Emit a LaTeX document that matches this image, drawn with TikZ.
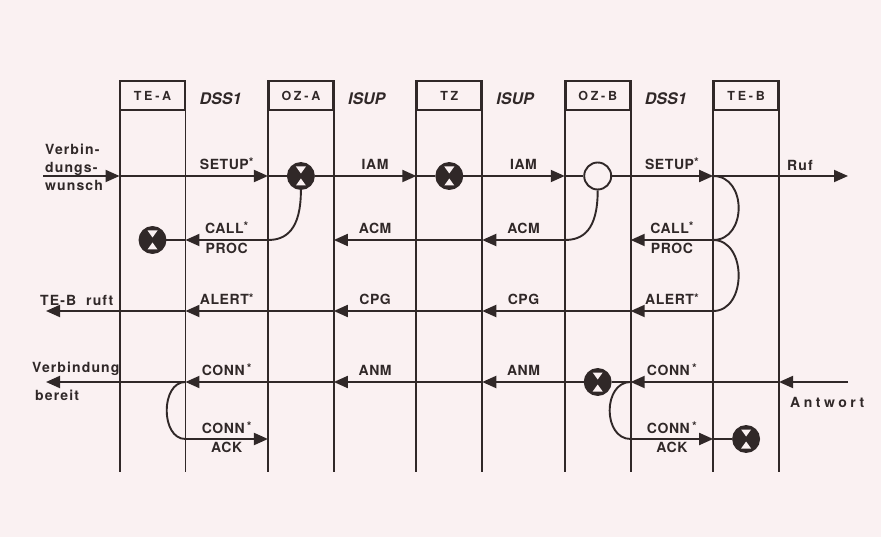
\documentclass[tikz,border=0pt]{standalone}
\usepackage{fontspec}
\setmainfont{TeX Gyre Heros}
\newfontfamily\msgfont[LetterSpace=4]{TeX Gyre Heros}
\newfontfamily\randfont[LetterSpace=8]{TeX Gyre Heros}
\newfontfamily\weitfont[LetterSpace=25]{TeX Gyre Heros}
\newfontfamily\kopffont[LetterSpace=22]{TeX Gyre Heros}
\usepackage{xcolor}
\usepackage{tikz}
\usetikzlibrary{arrows.meta, positioning}
\definecolor{linie}{RGB}{48,40,40}
\definecolor{papier}{RGB}{250,241,242}
\newcommand{\stern}{\raisebox{2.5pt}{\fontsize{12}{12}\selectfont *}}
\tikzstyle{instanz} = [rectangle, draw=linie, line width=1.9pt, minimum width=64pt, minimum height=29pt, inner sep=0pt, text=linie, font=\kopffont\bfseries\fontsize{12.5}{14}\selectfont]
\tikzstyle{protokoll} = [inner sep=0pt, text=linie, yshift=-3pt, font=\bfseries\itshape\fontsize{16}{18}\selectfont]
\tikzstyle{strich} = [line width=1.9pt, draw=linie]
\tikzstyle{msg} = [-{Triangle[length=14pt,width=12pt]}, line width=1.9pt, draw=linie]
\tikzstyle{lbl} = [inner sep=1.5pt, text=linie, font=\msgfont\bfseries\fontsize{14}{16}\selectfont]
\tikzstyle{rand} = [inner sep=0pt, text=linie, font=\randfont\bfseries\fontsize{14}{18}\selectfont]
\tikzstyle{vst} = [circle, draw=linie, fill=linie, line width=1.9pt, minimum size=26pt, inner sep=0pt,
  path picture={
    \fill[papier] ([yshift=2.5pt]path picture bounding box.center) -- ++(-5pt,7pt) -- ++(10pt,0pt) -- cycle;
    \fill[papier] ([yshift=-2.5pt]path picture bounding box.center) -- ++(-5pt,-7pt) -- ++(10pt,0pt) -- cycle;
  }]
\tikzstyle{vstleer} = [circle, draw=linie, fill=papier, line width=1.9pt, minimum size=27pt, inner sep=0pt]

\begin{document}
\begin{tikzpicture}[x=1pt, y=-1pt]
    \fill[papier] (0,0) rectangle (881,537);
    \useasboundingbox (0,0) rectangle (881,537);

    % === Instanzen ===
    \node[instanz] (tea) at (152.5,95.5) {TE-A};
    \node[instanz, right=82.5pt of tea] (oza) {OZ-A};
    \node[instanz, right=82.5pt of oza] (tz) {TZ};
    \node[instanz, right=82.5pt of tz] (ozb) {OZ-B};
    \node[instanz, right=82.5pt of ozb] (teb) {TE-B};

    % === Protokolle ===
    \node[protokoll, right=14pt of tea] (dssa) {DSS1};
    \node[protokoll, right=14pt of oza] (isupa) {ISUP};
    \node[protokoll, right=14pt of tz] (isupb) {ISUP};
    \node[protokoll, right=14pt of ozb] (dssb) {DSS1};

    % === Lebenslinien ===
    \coordinate (unten) at (0,472);
    \foreach \n in {tea,oza,tz,ozb,teb} {
        \draw[strich] (\n.north west) -- (\n.north west |- unten);
        \draw[strich] (\n.north east) -- (\n.north east |- unten);
    }

    % === Zeilen ===
    \coordinate (r1) at (0,176);
    \coordinate (r2) at (0,240);
    \coordinate (r3) at (0,311);
    \coordinate (r4) at (0,382);
    \coordinate (r5) at (0,439);

    % freie Enden
    \coordinate (wunsch) at (43,176);
    \coordinate (ruf) at (848,176);
    \coordinate (ruft) at (46,311);
    \coordinate (bereit) at (46,382);
    \coordinate (antwort) at (848,382);

    % Vermittlungsstellen
    \node[vst] (vA) at (oza |- r1) {};
    \node[vst] (vT) at (tz |- r1) {};
    \node[vstleer] (vB) at (ozb |- r1) {};
    \node[vst] (eA) at (tea |- r2) {};
    \node[vst] (vB2) at (ozb |- r4) {};
    \node[vst] (eB) at (teb |- r5) {};

    % === Texte am Rand ===
    \node[rand, align=left, anchor=west] (wunschtxt) at (45,167) {Verbin-\\dungs-\\wunsch};
    \node[rand, anchor=base west] (ruftxt) at (787,171) {Ruf};
    \node[rand, anchor=base west] (teruft) at (40,306) {TE-B\ \ ruft};
    \node[rand, anchor=base west] (verbtxt) at (32,373) {Verbindung};
    \node[rand, anchor=base west] (bereittxt) at (35,400) {bereit};
    \node[rand, anchor=base west, font=\weitfont\bfseries\fontsize{14}{18}\selectfont] (antworttxt) at (790,407) {Antwort};

    % ===== ZEILE 1: SETUP / IAM =====
    \draw[msg] (wunsch) -- (tea.west |- r1);
    \draw[strich] (tea.west |- r1) -- (tea.east |- r1);
    \draw[msg] (tea.east |- r1) -- node[lbl, above=4pt] {SETUP\stern} (oza.west |- r1);
    \draw[strich] (oza.west |- r1) -- (vA);
    \draw[strich] (vA) -- (oza.east |- r1);
    \draw[msg] (oza.east |- r1) -- node[lbl, above=4pt] {IAM} (tz.west |- r1);
    \draw[strich] (tz.west |- r1) -- (vT);
    \draw[strich] (vT) -- (tz.east |- r1);
    \draw[msg] (tz.east |- r1) -- node[lbl, above=4pt] {IAM} (ozb.west |- r1);
    \draw[strich] (ozb.west |- r1) -- (vB);
    \draw[strich] (vB) -- (ozb.east |- r1);
    \draw[msg] (ozb.east |- r1) -- node[lbl, above=4pt] {SETUP\stern} (teb.west |- r1);
    \draw[msg] (teb.west |- r1) -- (ruf);

    % ===== ZEILE 2: CALL PROC / ACM =====
    \draw[msg] (vA.south) .. controls +(0,40) and +(18,0) .. (oza.west |- r2)
        -- node[lbl, above=4pt] {CALL\stern} node[lbl, below=0.5pt] {PROC} (tea.east |- r2);
    \draw[strich] (tea.east |- r2) -- (eA);
    \draw[msg] (vB.south) .. controls +(0,40) and +(18,0) .. (ozb.west |- r2)
        -- node[lbl, above=4pt] {ACM} (tz.east |- r2);
    \draw[strich] (tz.east |- r2) -- (tz.west |- r2);
    \draw[msg] (tz.west |- r2) -- node[lbl, above=4pt] {ACM} (oza.east |- r2);
    \draw[msg] (teb.west |- r1) .. controls +(34,0) and +(34,0) .. (teb.west |- r2)
        -- node[lbl, above=4pt] {CALL\stern} node[lbl, below=0.5pt] {PROC} (ozb.east |- r2);

    % ===== ZEILE 3: ALERT / CPG =====
    \draw[msg] (teb.west |- r2) .. controls +(34,0) and +(34,0) .. (teb.west |- r3)
        -- node[lbl, above=4pt] {ALERT\stern} (ozb.east |- r3);
    \draw[strich] (ozb.east |- r3) -- (ozb.west |- r3);
    \draw[msg] (ozb.west |- r3) -- node[lbl, above=4pt] {CPG} (tz.east |- r3);
    \draw[strich] (tz.east |- r3) -- (tz.west |- r3);
    \draw[msg] (tz.west |- r3) -- node[lbl, above=4pt] {CPG} (oza.east |- r3);
    \draw[strich] (oza.east |- r3) -- (oza.west |- r3);
    \draw[msg] (oza.west |- r3) -- node[lbl, above=4pt] {ALERT\stern} (tea.east |- r3);
    \draw[msg] (tea.east |- r3) -- (ruft);

    % ===== ZEILE 4: CONN / ANM =====
    \draw[msg] (antwort) -- (teb.east |- r4);
    \draw[strich] (teb.east |- r4) -- (teb.west |- r4);
    \draw[msg] (teb.west |- r4) -- node[lbl, above=4pt] {CONN\,\stern} (ozb.east |- r4);
    \draw[strich] (ozb.east |- r4) -- (vB2);
    \draw[strich] (vB2) -- (ozb.west |- r4);
    \draw[msg] (ozb.west |- r4) -- node[lbl, above=4pt] {ANM} (tz.east |- r4);
    \draw[strich] (tz.east |- r4) -- (tz.west |- r4);
    \draw[msg] (tz.west |- r4) -- node[lbl, above=4pt] {ANM} (oza.east |- r4);
    \draw[strich] (oza.east |- r4) -- (oza.west |- r4);
    \draw[msg] (oza.west |- r4) -- node[lbl, above=4pt] {CONN\,\stern} (tea.east |- r4);
    \draw[msg] (tea.east |- r4) -- (bereit);

    % ===== ZEILE 5: CONN ACK =====
    \draw[msg] (tea.east |- r4) .. controls +(-25,0) and +(-25,0) .. (tea.east |- r5)
        -- node[lbl, above=3pt] {CONN\,\stern} node[lbl, below=1pt] {ACK} (oza.west |- r5);
    \draw[msg] (ozb.east |- r4) .. controls +(-28,0) and +(-28,0) .. (ozb.east |- r5)
        -- node[lbl, above=3pt] {CONN\,\stern} node[lbl, below=1pt] {ACK} (teb.west |- r5);
    \draw[strich] (teb.west |- r5) -- (eB);
\end{tikzpicture}
\end{document}
